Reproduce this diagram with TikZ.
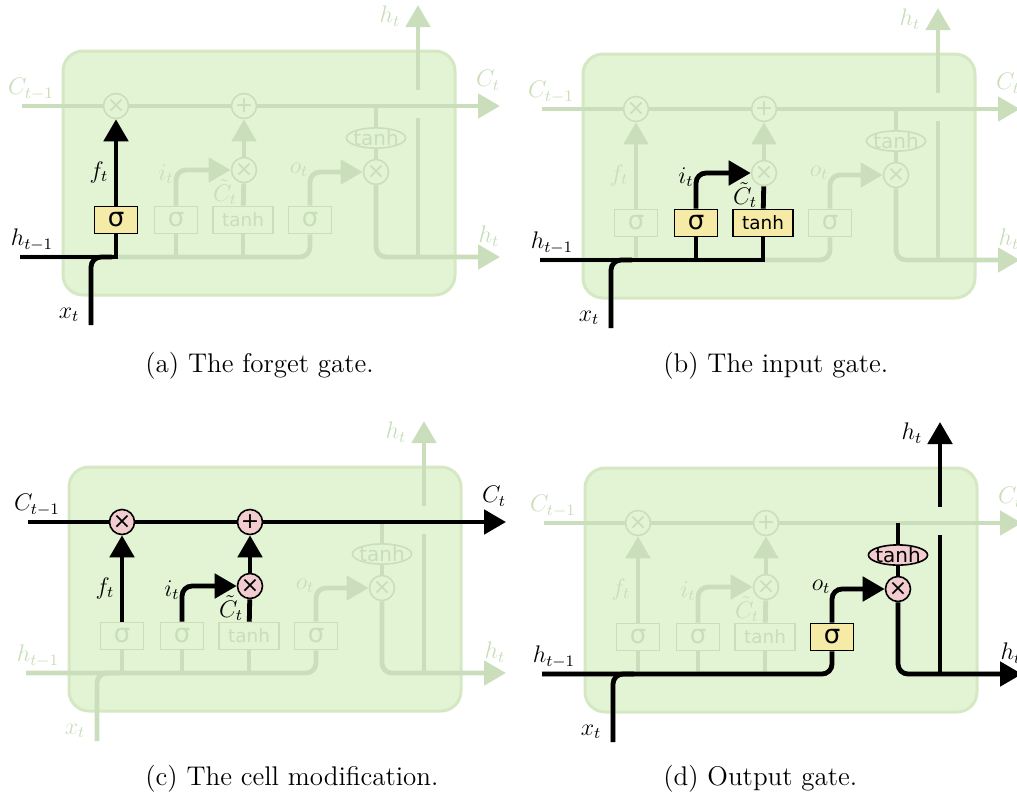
\documentclass[tikz,border=0pt]{standalone}
\usepackage{fontspec}
\newfontfamily\dejavu{DejaVu Sans}
\usetikzlibrary{arrows.meta,shapes.geometric}
\definecolor{cellfill}{RGB}{227,244,212}
\definecolor{cellborder}{RGB}{212,233,195}
\definecolor{faded}{RGB}{203,222,188}
\definecolor{fadedtext}{RGB}{200,222,185}
\definecolor{yellowc}{RGB}{245,234,166}
\definecolor{pinkc}{RGB}{242,204,206}
\pgfdeclarelayer{cellbg}
\pgfdeclarelayer{fline}
\pgfdeclarelayer{bline}
\pgfsetlayers{cellbg,fline,bline,main}
\tikzset{
 fl/.style={draw=faded,line width=2.4pt},
 bl/.style={draw=black,line width=2.4pt},
 arr/.style={-{Triangle[width=12pt,length=11pt]}},
 rc/.style={rounded corners=5pt},
 gatefont/.style={font=\dejavu\fontsize{13}{13}\selectfont},
 tanhfont/.style={font=\dejavu\fontsize{9.2}{10}\selectfont},
 opfont/.style={font=\dejavu\fontsize{11}{12}\selectfont},
 fcirc/.style={circle,draw=faded,line width=0.8pt,fill=cellfill,minimum size=12.5pt,inner sep=0pt,text=fadedtext,opfont},
 pcirc/.style={circle,draw=black,line width=0.8pt,fill=pinkc,minimum size=12.5pt,inner sep=0pt,text=black,opfont},
 fgate/.style={rectangle,draw=faded,line width=0.8pt,fill=cellfill,minimum width=21.5pt,minimum height=13.5pt,inner sep=0pt,text=fadedtext},
 ygate/.style={rectangle,draw=black,line width=0.8pt,fill=yellowc,minimum width=21.5pt,minimum height=13.5pt,inner sep=0pt,text=black},
 wide/.style={minimum width=30pt},
 fell/.style={ellipse,draw=faded,line width=0.8pt,fill=cellfill,inner xsep=-0.9pt,inner ysep=-0.3pt,text=fadedtext,font=\dejavu\fontsize{10}{10}\selectfont},
 pell/.style={ellipse,draw=black,line width=0.8pt,fill=pinkc,inner xsep=-0.9pt,inner ysep=-0.3pt,text=black,font=\dejavu\fontsize{10}{10}\selectfont},
 flab/.style={text=fadedtext,inner sep=0pt,font=\fontsize{12}{14}\selectfont},
 blab/.style={text=black,inner sep=0pt,font=\fontsize{12}{14}\selectfont},
 capt/.style={anchor=base west,inner sep=0pt,font=\fontsize{13.5}{16}\selectfont},
 cellbox/.style={rectangle,rounded corners=10pt,draw=cellborder,line width=1.5pt,fill=cellfill,minimum width=196pt,minimum height=122pt,inner sep=0pt},
 % per-panel node looks (faded by default)
 fxS/.style={fcirc}, adS/.style={fcirc}, ixS/.style={fcirc}, oxS/.style={fcirc},
 thS/.style={fell},
 sfS/.style={fgate}, siS/.style={fgate}, tbS/.style={fgate}, soS/.style={fgate},
 LcinS/.style={flab}, LcoutS/.style={flab}, LhtopS/.style={flab}, LhoutS/.style={flab},
 LhinS/.style={flab}, LxinS/.style={flab}, LfS/.style={flab}, LiS/.style={flab},
 LoS/.style={flab}, LctS/.style={flab},
}
\newcommand\LSTMbase{%
\begin{pgfonlayer}{cellbg}
 \node[cellbox] (cell) at (259,173) {};
\end{pgfonlayer}
\node[fxS] (fx) at (116,106) {×};
\node[adS] (ad) at (244,106) {+};
\node[ixS] (ix) at (244,170) {×};
\node[oxS] (ox) at (376,172) {×};
\node[thS] (th) at (376,138) {tanh};
\node[sfS,gatefont] (sf) at (116,220) {σ};
\node[siS,gatefont] (si) at (176,220) {σ};
\node[tbS,wide,tanhfont] (tb) at (243,220) {tanh};
\node[soS,gatefont] (so) at (310,220) {σ};
\coordinate (cin) at (22,106);
\coordinate (cout) at (500,106);
\coordinate (hin) at (20,257);
\coordinate (hout) at (500,257);
\coordinate (xin) at (91,325);
\coordinate (xj) at (112,257);
\coordinate (cbr) at (376,106);
\coordinate (hbot) at (418,257);
\coordinate (hlo) at (418,118);
\coordinate (hhi) at (418,90);
\coordinate (htop) at (418,5);
\node[LcinS] (lcin) at (31,89) {$C_{t-1}$};
\node[LcoutS] (lcout) at (488,80) {$C_t$};
\node[LhtopS] (lhtop) at (390,16) {$h_t$};
\node[LhoutS] (lhout) at (489,236) {$h_t$};
\node[LhinS] (lhin) at (32,240) {$h_{t-1}$};
\node[LxinS] (lxin) at (69,315) {$x_t$};
\node[LfS] (lf) at (99,172) {$f_t$};
\node[LiS] (li) at (166,174) {$i_t$};
\node[LoS] (lo) at (299,170) {$o_t$};
\node[LctS] (lct) at (225,192) {$\tilde{C}_t$};
\begin{pgfonlayer}{fline}
 \draw[fl] (cin) -- (fx);
 \draw[fl] (fx) -- (ad);
 \draw[fl,arr] (ad) -- (cout);
 \draw[fl] (cbr) -- (th);
 \draw[fl] (th) -- (ox);
 \draw[fl,arr,rc] (ox) |- (hout);
 \draw[fl] (hbot) -- (hlo);
 \draw[fl,arr] (hhi) -- (htop);
 \draw[fl,rc] (hin) -| (so);
 \draw[fl,rc] (xin) |- (xj);
 \draw[fl] (sf) -- (sf|-hin);
 \draw[fl] (si) -- (si|-hin);
 \draw[fl] (tb) -- (tb|-hin);
 \draw[fl,arr] (sf) -- (fx);
 \draw[fl,arr,rc] (si) |- (ix);
 \draw[fl] (tb) -- (ix);
 \draw[fl,arr] (ix) -- (ad);
 \draw[fl,arr,rc] (so) |- (ox);
\end{pgfonlayer}
}
\begin{document}
\begin{tikzpicture}[x=0.5pt,y=-0.5pt]
\useasboundingbox (0,0) rectangle (1017,799);
% (a) forget gate
\begin{scope}[shift={(0,0)},name prefix=a-,
  sfS/.style={ygate}, LhinS/.style={blab}, LxinS/.style={blab}, LfS/.style={blab}]
\LSTMbase
\begin{pgfonlayer}{bline}
 \draw[bl] (hin) -| (sf);
 \draw[bl,rc] (xin) |- (xj);
 \draw[bl,arr] (sf) -- (fx);
\end{pgfonlayer}
\end{scope}
% (b) input gate
\begin{scope}[shift={(520,3)},name prefix=b-,
  siS/.style={ygate}, tbS/.style={ygate}, LhinS/.style={blab}, LxinS/.style={blab},
  LiS/.style={blab}, LctS/.style={blab}]
\LSTMbase
\begin{pgfonlayer}{bline}
 \draw[bl] (hin) -| (tb);
 \draw[bl] (si) -- (si|-hin);
 \draw[bl,rc] (xin) |- (xj);
 \draw[bl,arr,rc] (si) |- (ix);
 \draw[bl] (tb) -- (ix);
\end{pgfonlayer}
\end{scope}
% (c) cell modification
\begin{scope}[shift={(6,416)},name prefix=c-,
  fxS/.style={pcirc}, adS/.style={pcirc}, ixS/.style={pcirc},
  LcinS/.style={blab}, LcoutS/.style={blab}, LfS/.style={blab}, LiS/.style={blab}, LctS/.style={blab}]
\LSTMbase
\begin{pgfonlayer}{bline}
 \draw[bl] (cin) -- (fx);
 \draw[bl] (fx) -- (ad);
 \draw[bl,arr] (ad) -- (cout);
 \draw[bl,arr] (sf) -- (fx);
 \draw[bl,arr,rc] (si) |- (ix);
 \draw[bl] (tb) -- (ix);
 \draw[bl,arr] (ix) -- (ad);
\end{pgfonlayer}
\end{scope}
% (d) output gate
\begin{scope}[shift={(522,417)},name prefix=d-,
  soS/.style={ygate}, thS/.style={pell}, oxS/.style={pcirc},
  LhinS/.style={blab}, LxinS/.style={blab}, LoS/.style={blab}, LhtopS/.style={blab}, LhoutS/.style={blab}]
\LSTMbase
\begin{pgfonlayer}{bline}
 \draw[bl,rc] (hin) -| (so);
 \draw[bl,rc] (xin) |- (xj);
 \draw[bl,arr,rc] (so) |- (ox);
 \draw[bl] (cbr) -- (th);
 \draw[bl] (th) -- (ox);
 \draw[bl,arr,rc] (ox) |- (hout);
 \draw[bl] (hbot) -- (hlo);
 \draw[bl,arr] (hhi) -- (htop);
\end{pgfonlayer}
\end{scope}
% captions
\node[capt] (capa) at (145,372) {(a) The forget gate.};
\node[capt] (capb) at (663,372) {(b) The input gate.};
\node[capt] (capc) at (145,785) {(c) The cell modification.};
\node[capt] (capd) at (663,785) {(d) Output gate.};
\end{tikzpicture}
\end{document}
